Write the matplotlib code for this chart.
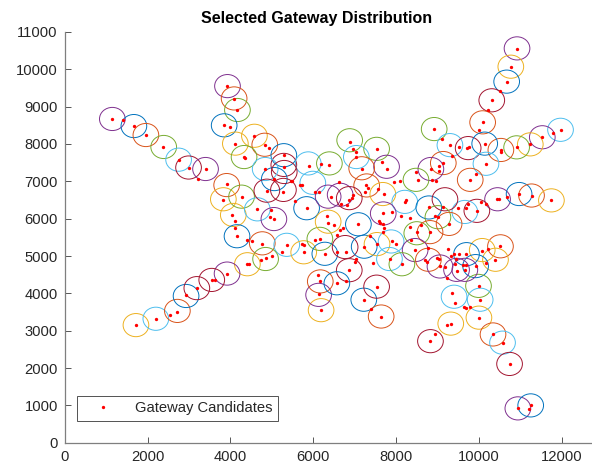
import matplotlib
matplotlib.use('Agg')
import matplotlib.pyplot as plt
from matplotlib.patches import Circle

plt.rcParams['font.family'] = ['Liberation Sans', 'DejaVu Sans']

# MATLAB default colour order used for the gateway circles
palette = {'b': '#0072BD', 'o': '#D95319', 'y': '#EDB120', 'p': '#7E2F8E',
           'g': '#77AC30', 'c': '#4DBEEE', 'r': '#A2142F'}

# Gateway candidates (x, y), grouped roughly by area
cand_upper_left = [(1150, 8670), (1400, 8640), (1670, 8480), (1960, 8240), (2380, 7920),
                   (2750, 7580), (2990, 7350), (3400, 7320), (3230, 7060),
                   (3930, 9550), (4090, 9210), (4170, 8910), (3850, 8500), (3980, 8460),
                   (4120, 8010), (4580, 8220), (4830, 7980), (4940, 7890), (4330, 7650),
                   (4350, 7620), (5290, 7700), (4830, 7340), (5290, 7380), (5890, 7420),
                   (6190, 7470), (6390, 7430)]
cand_upper_mid = [(8920, 8400), (6880, 8050), (6960, 7870), (7030, 7790), (7530, 7870),
                  (7040, 7650), (9110, 8140), (9300, 7970), (9530, 7920), (9140, 7490),
                  (9040, 7420), (7670, 7520), (7170, 7340), (8850, 7340), (9360, 7670)]
cand_upper_right = [(10920, 10550), (10770, 10060), (10670, 9670), (10520, 9410),
                    (10310, 9170), (10230, 8900), (10090, 8580), (9990, 8380),
                    (11970, 8380), (11800, 8290), (11530, 8180), (11240, 7990),
                    (10910, 7910), (10530, 7840), (10530, 7790), (10140, 8010),
                    (9720, 7880), (9760, 7910), (10170, 7470)]
cand_right = [(9930, 7190), (9790, 7030), (10440, 6520), (10480, 6520), (10670, 6580),
              (10970, 6660), (11270, 6620), (11750, 6490), (10050, 6440), (10170, 6390),
              (9950, 6210), (9740, 6400), (10520, 5260), (10220, 5190), (10080, 5140),
              (10400, 4900), (10180, 4820), (9920, 4730), (9690, 5050), (9660, 4630),
              (9990, 4200), (10030, 3830)]
cand_lower_right = [(9780, 3630), (9690, 3600), (10000, 3350), (10340, 2900),
                    (10570, 2680), (10740, 2110), (10940, 920), (11220, 900),
                    (11250, 1000), (8950, 2920), (8830, 2720), (9220, 3150),
                    (9330, 3190), (9430, 3740), (9640, 3630)]
cand_lower = [(7220, 3810), (7390, 3590), (7640, 3380), (6190, 3550), (6120, 4500),
              (6170, 4320), (6140, 3980)]
cand_lower_left = [(1720, 3150), (2200, 3320), (2530, 3430), (2720, 3510), (3190, 4140),
                   (2930, 3960)]
cand_left = [(3910, 6930), (3810, 6500), (4270, 6590), (4040, 6100), (4120, 5940),
             (4100, 5750), (4160, 5530), (4650, 6250), (4980, 6220), (4960, 6050),
             (5060, 5990), (4400, 5420), (4520, 5400), (4770, 5330), (5000, 5000),
             (4850, 4940), (4750, 4890), (4410, 4780), (4450, 4780), (3920, 4530),
             (3550, 4360), (3630, 4360), (5370, 5300), (5240, 5100), (5740, 5320),
             (5770, 5300), (5770, 5100), (6040, 5420), (6160, 5460), (6280, 5060),
             (5050, 7060), (5460, 7010), (5490, 7020), (5680, 6900), (5720, 6900),
             (4880, 6750), (5280, 6720), (5560, 6480), (5840, 6280), (6040, 6720),
             (6150, 6720), (6340, 6060), (6360, 5880)]
cand_center = [(7770, 7330), (6620, 6980), (7270, 6890), (7330, 6820), (7570, 6800),
               (7960, 6980), (8100, 7010), (8480, 7240), (9030, 7280), (8870, 7040),
               (8960, 7010), (8530, 7040), (7250, 6710), (7710, 6660), (6430, 6580),
               (6970, 6640), (6940, 6550), (6860, 6490), (6670, 6400), (6810, 6370),
               (8250, 6510), (8210, 6450), (8790, 6300), (9130, 6310), (8950, 6060),
               (9010, 6050), (9280, 5860), (9490, 6290), (9690, 6280), (7090, 5850),
               (7690, 6140), (7900, 6190), (7580, 5940), (7610, 5890), (7680, 5850),
               (8110, 6060), (8340, 6010), (8600, 5830), (8820, 5640), (8500, 5630),
               (8330, 5790), (7700, 5750), (7690, 5630), (6730, 5750), (6650, 5700),
               (6510, 5830), (6570, 5570), (7370, 5530), (7230, 5250), (7540, 5320),
               (7890, 5390), (8000, 5330), (7850, 4920), (8140, 4780), (8460, 5160),
               (8370, 5430), (8780, 5210), (8690, 4890), (8740, 4840), (8980, 4940),
               (9030, 4920), (9250, 5180), (9320, 4990), (9410, 5060), (9510, 5050),
               (9060, 4720), (9170, 4700), (9450, 4920), (9430, 4790), (9620, 4760),
               (9680, 4750), (9460, 4600), (9220, 4420), (9350, 4020), (6570, 5100),
               (6790, 5100), (7030, 4920), (7000, 4850), (7450, 4820), (6870, 4620),
               (6570, 4270), (6790, 4340), (7530, 4180)]

# Selected gateways (x, y, colour code)
gw_outer = [(1150, 8670, 'p'), (1670, 8480, 'b'), (1960, 8240, 'o'), (2390, 7920, 'g'),
            (2750, 7580, 'c'), (2990, 7370, 'r'), (3400, 7330, 'p'), (3930, 9550, 'p'),
            (4090, 9220, 'o'), (4170, 8910, 'g'), (3850, 8500, 'b'), (4120, 8010, 'y'),
            (4580, 8220, 'y'), (4830, 7980, 'o'), (4330, 7650, 'g'), (5290, 7700, 'b'),
            (5290, 7440, 'r'), (5880, 7480, 'c'), (6390, 7480, 'g'), (4840, 7330, 'c'),
            (8920, 8400, 'g'), (6880, 8100, 'g'), (7040, 7650, 'c'), (7530, 7870, 'g'),
            (9300, 7970, 'c'), (9740, 7890, 'r'), (9140, 7490, 'o'), (7770, 7390, 'p'),
            (7170, 7350, 'o'), (8840, 7330, 'p'),
            (10920, 10560, 'p'), (10770, 10070, 'y'), (10670, 9670, 'b'), (10310, 9170, 'r'),
            (10090, 8580, 'o'), (11970, 8380, 'c'), (11530, 8180, 'p'), (11240, 7990, 'y'),
            (10910, 7910, 'g'), (10530, 7840, 'o'), (10140, 8010, 'b'), (10170, 7470, 'c'),
            (9790, 7040, 'o'), (10450, 6520, 'p'), (10970, 6660, 'b'), (11270, 6620, 'o'),
            (11750, 6490, 'y'), (9950, 6210, 'r'), (9660, 6180, 'c'), (10520, 5260, 'o'),
            (10080, 5160, 'y'), (10400, 4900, 'y'), (9920, 4730, 'b'), (9700, 5050, 'b'),
            (9990, 4200, 'g'), (10030, 3830, 'c'), (9660, 4630, 'p'), (10000, 3350, 'y'),
            (10340, 2900, 'o'), (10570, 2680, 'c'), (10740, 2110, 'r'), (10940, 920, 'p'),
            (11250, 1000, 'b'), (7220, 3830, 'b'), (7640, 3380, 'o'), (8830, 2720, 'r'),
            (9320, 3190, 'y'), (9400, 3910, 'c'), (6190, 3550, 'y'), (6130, 3960, 'p'),
            (1720, 3150, 'y'), (2200, 3320, 'c'), (2720, 3530, 'o'), (2930, 3930, 'b'),
            (3190, 4140, 'r')]
gw_inner = [(3910, 6900, 'o'), (3830, 6520, 'y'), (4270, 6590, 'g'), (4070, 6100, 'y'),
            (4650, 6250, 'c'), (5050, 5990, 'p'), (4160, 5530, 'b'), (4770, 5340, 'o'),
            (5360, 5300, 'c'), (5770, 5100, 'y'), (6160, 5460, 'g'), (6280, 5060, 'b'),
            (4850, 4920, 'g'), (4410, 4780, 'y'), (3920, 4530, 'p'), (3550, 4360, 'r'),
            (6170, 4320, 'o'), (5060, 7060, 'b'), (5300, 7250, 'r'), (4880, 6750, 'r'),
            (5280, 6770, 'r'), (5840, 6280, 'b'), (5990, 6960, 'c'), (6360, 6590, 'p'),
            (6360, 5920, 'y'), (7290, 6890, 'o'), (7680, 6660, 'y'), (6650, 6640, 'p'),
            (6870, 6550, 'r'), (8210, 6450, 'c'), (8790, 6300, 'b'), (9180, 6520, 'r'),
            (9010, 6040, 'g'), (7690, 6140, 'p'), (7090, 5850, 'b'), (8500, 5610, 'g'),
            (8820, 5640, 'o'), (6770, 5240, 'r'), (7230, 5250, 'b'), (7540, 5320, 'y'),
            (7880, 5390, 'c'), (8460, 5160, 'p'), (8780, 4900, 'o'), (9060, 4720, 'p'),
            (9460, 4630, 'p'), (7840, 4920, 'c'), (8140, 4780, 'g'), (6870, 4620, 'r'),
            (6570, 4270, 'b'), (7530, 4180, 'r'), (8480, 7040, 'g'), (9280, 5860, 'o')]

x_ticks = [0, 2000, 4000, 6000, 8000, 10000, 12000]
y_ticks = list(range(0, 11001, 1000))

candidates = (cand_upper_left + cand_upper_mid + cand_upper_right + cand_right
              + cand_lower_right + cand_lower + cand_lower_left + cand_left + cand_center)
cx = [p[0] for p in candidates]
cy = [p[1] for p in candidates]

fig = plt.figure(figsize=(5.92, 4.70), dpi=100)
ax = fig.add_axes([0.1093, 0.058, 0.8907, 0.874])

# circles around the selected gateways
for x, y, c in gw_outer + gw_inner:
    ax.add_patch(Circle((x, y), 310, fill=False, edgecolor=palette[c], lw=0.7, zorder=2))

ax.plot(cx, cy, 'o', color='red', ms=2.4, mec='none', ls='none',
        label='Gateway Candidates', zorder=3)

ax.set_xlim(0, 12730)
ax.set_ylim(0, 11000)
ax.set_xticks(x_ticks)
ax.set_yticks(y_ticks)
ax.spines['top'].set_visible(False)
ax.spines['right'].set_visible(False)
for s in ['left', 'bottom']:
    ax.spines[s].set_color('#7f7f7f')
    ax.spines[s].set_linewidth(0.9)
ax.tick_params(direction='in', length=4, width=0.7, color='#555555',
               labelcolor='#262626', labelsize=10.6)
ax.tick_params(axis='x', pad=5)
ax.tick_params(axis='y', pad=5)

fig.text(317 / 592, 1 - 18 / 470, 'Selected Gateway Distribution',
         ha='center', va='center', fontsize=11.5, fontweight='bold')

leg = ax.legend(loc='lower left', bbox_to_anchor=(0.0228, 0.053), borderaxespad=0,
                fontsize=10.6, frameon=True, fancybox=False, handlelength=2.8,
                handletextpad=0.75, borderpad=0.38, numpoints=1)
leg.get_frame().set_edgecolor('#262626')
leg.get_frame().set_linewidth(0.7)
for t in leg.get_texts():
    t.set_color('#262626')

fig.savefig('out.png', dpi=100)
